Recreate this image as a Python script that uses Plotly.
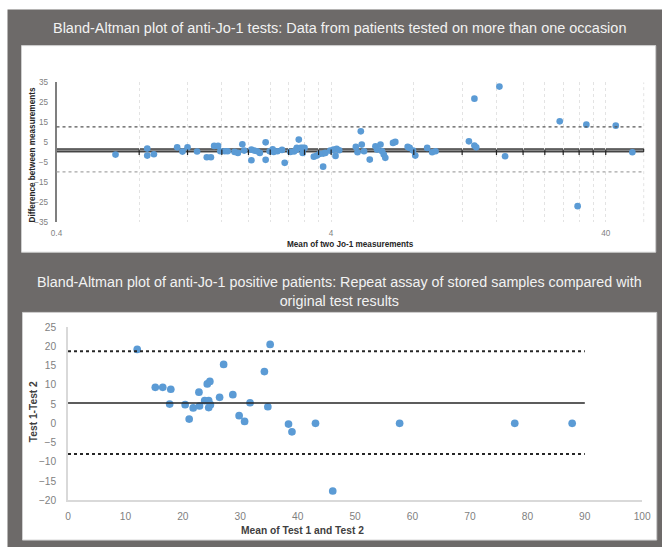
import math
import plotly.graph_objects as go

# ---------------- data: top panel (log x) ----------------
top_mean = [0.656, 0.856, 0.856, 0.905, 1.10, 1.15, 1.20, 1.30, 1.41, 1.46, 1.50, 1.55,
            1.58, 1.64, 1.68, 1.78, 1.83, 1.90, 1.93, 2.05, 2.05, 2.10, 2.15, 2.20, 2.31,
            2.31, 2.39, 2.45, 2.47, 2.55, 2.65, 2.71, 2.84, 2.93, 2.98, 3.00, 3.05, 3.10,
            3.15, 3.20, 3.15, 3.46, 3.55, 3.63, 3.74, 3.74, 3.81, 3.97, 4.08, 4.15, 4.19,
            4.28, 4.92, 4.99, 5.13, 5.17, 5.27, 5.53, 5.80, 5.88, 6.05, 6.13, 6.22, 6.30,
            6.72, 6.85, 7.60, 7.73, 7.95, 8.10, 8.95, 9.33, 9.60, 12.7, 13.3, 13.5, 13.3,
            16.4, 17.2, 27.2, 31.6, 34.0, 43.5, 50.0]
top_diff = [-1.15, 1.85, -1.65, -1.0, 2.5, 0.35, 2.5, 0.4, -2.5, -2.5, 3.2, 3.2,
            0.5, 0.5, 0.5, 0.2, -0.3, 4.0, 0.85, 1.3, -4.0, 0.85, 0.5, -0.3, 5.0,
            -3.8, 0.5, 1.5, 0.2, 0.5, 1.2, -5.3, 0.2, 0.4, 1.2, 2.2, 6.35, 2.2,
            2.2, 2.2, -0.3, -2.2, -1.65, -0.8, -0.65, -7.2, -0.3, 0.8, 1.3, -1.8, 1.7,
            1.0, 2.7, 0.0, 10.5, 3.85, 0.5, -3.65, 3.0, 1.35, 3.85, 0.5, -1.15, -2.8,
            4.7, 5.2, 2.7, 2.2, 0.85, -1.65, 2.2, 0.0, 0.5, 5.5, 3.35, 2.5, 26.85,
            32.9, -2.0, 15.5, -27.0, 13.85, 13.35, 0.0]
top_band = (0.2, 1.7)      # mean-difference band
top_upper = 12.7
top_lower = -9.8
top_xticks = [0.4, 0.8, 1.2, 1.6, 2.0, 2.4, 2.8, 3.2, 3.6,
              4, 8, 12, 16, 20, 24, 28, 32, 36, 40]
top_xlabels = {0.4: "0.4", 4: "4", 40: "40"}
top_yticks = [35, 25, 15, 5, -5, -15, -25, -35]
top_xmin, top_xmax = 0.4, 55.0

# ---------------- data: bottom panel ----------------
bot_mean = [12.05, 15.2, 16.5, 17.9, 17.7, 20.4, 21.1, 21.8, 22.8, 22.9, 23.8, 24.25,
            24.7, 24.5, 24.5, 24.8, 26.4, 27.1, 28.7, 29.8, 30.75, 31.7, 34.2, 35.2,
            34.8, 38.4, 39.0, 43.1, 46.1, 57.75, 77.8, 87.8]
bot_diff = [19.2, 9.35, 9.35, 8.85, 5.0, 4.85, 1.1, 4.0, 8.1, 4.5, 5.9, 10.25,
            10.9, 5.9, 4.1, 4.85, 6.75, 15.3, 7.45, 2.0, 0.5, 5.35, 13.45, 20.5,
            4.3, -0.2, -2.2, 0.0, -17.6, 0.0, 0.0, 0.0]
bot_bias = 5.3
bot_upper = 18.75
bot_lower = -8.0
bot_line_x = (0, 90)
bot_xticks = list(range(0, 101, 10))
bot_yticks = list(range(-20, 26, 5))

title_top = "Bland-Altman plot of anti-Jo-1 tests: Data from patients tested on more than one occasion"
title_bot = ("Bland-Altman plot of anti-Jo-1 positive patients: Repeat assay of stored samples compared with"
             "<br>original test results")

W, H = 662, 547
# the captured picture appears slightly shrunk and offset; positions below are
# given in target-picture pixels and mapped back to figure pixels
S, OFF = 0.977, 5.5
BLUE = "#5b9bd5"
GRAY_BG = "#6d6a69"


def px(x):
    return ((x - OFF) / S) / W


def py(y):
    return 1 - ((y - OFF) / S) / H


def fs(v):
    return v / S


fig = go.Figure()

fig.add_trace(go.Scatter(x=top_mean, y=top_diff, mode="markers", xaxis="x", yaxis="y",
                         marker=dict(color=BLUE, size=fs(6.5)), showlegend=False, hoverinfo="x+y"))
# small tick marks on the zero line
fig.add_trace(go.Scatter(x=[t for t in top_xticks if t > top_xmin], y=[0] * (len(top_xticks) - 1),
                         mode="markers", xaxis="x", yaxis="y", showlegend=False, hoverinfo="skip",
                         marker=dict(symbol="line-ns-open", size=4, color="#222222",
                                     line=dict(color="#222222", width=1.2))))

fig.add_trace(go.Scatter(x=bot_mean, y=bot_diff, mode="markers", xaxis="x2", yaxis="y2",
                         marker=dict(color=BLUE, size=fs(7.5)), showlegend=False, hoverinfo="x+y"))
for val, dash, w in [(bot_bias, "solid", 1.5), (bot_upper, "dot", 2), (bot_lower, "dot", 2)]:
    fig.add_trace(go.Scatter(x=list(bot_line_x), y=[val, val], mode="lines", xaxis="x2", yaxis="y2",
                             line=dict(color="#262626", width=w, dash=dash), showlegend=False,
                             hoverinfo="skip"))

shapes = [
    dict(type="rect", xref="paper", yref="paper", x0=px(7), x1=1.05, y0=py(10), y1=-0.05,
         fillcolor=GRAY_BG, line=dict(width=0), layer="below"),
    dict(type="rect", xref="paper", yref="paper", x0=px(21), x1=px(655), y0=py(46), y1=py(252),
         fillcolor="white", line=dict(color="#cfcfcf", width=1), layer="below"),
    dict(type="rect", xref="paper", yref="paper", x0=px(22), x1=px(656), y0=py(312), y1=py(539),
         fillcolor="white", line=dict(color="#cfcfcf", width=1), layer="below"),
    # right edge dotted line of the top plot area
    dict(type="line", xref="x domain", yref="y domain", x0=1, x1=1, y0=0, y1=1,
         line=dict(color="#e3e3e3", width=1, dash="dot"), layer="below"),
    # top panel reference lines
    dict(type="line", xref="x domain", yref="y", x0=0, x1=1, y0=top_upper, y1=top_upper,
         line=dict(color="#555555", width=1.2, dash="dot")),
    dict(type="line", xref="x domain", yref="y", x0=0, x1=1, y0=top_lower, y1=top_lower,
         line=dict(color="#a6a6a6", width=1.2, dash="dot")),
    dict(type="rect", xref="x domain", yref="y", x0=0, x1=1, y0=top_band[0], y1=top_band[1],
         fillcolor="#8a8a8a", line=dict(color="#1a1a1a", width=1), layer="below"),
]

TXT = "#f2f2f2"
annotations = [
    dict(text=title_top, x=px(339), y=py(28), xref="paper", yref="paper", showarrow=False,
         font=dict(family="Liberation Sans", size=fs(14.15), color=TXT), xanchor="center", yanchor="middle"),
    dict(text=title_bot, x=px(339), y=py(291), xref="paper", yref="paper", showarrow=False,
         font=dict(family="Liberation Sans", size=fs(14.0), color=TXT), xanchor="center", yanchor="middle"),
    dict(text="<b>Mean of two Jo-1 measurements</b>", x=px(350), y=py(244), xref="paper", yref="paper",
         showarrow=False, font=dict(family="Liberation Sans", size=fs(8), color="#262626"),
         xanchor="center", yanchor="middle"),
    dict(text="<b>Difference between measurements</b>", x=px(32), y=py(155), xref="paper", yref="paper",
         showarrow=False, textangle=-90, font=dict(family="Liberation Sans", size=fs(8), color="#262626"),
         xanchor="center", yanchor="middle"),
    dict(text="<b>Mean of Test 1 and Test 2</b>", x=px(302), y=py(529), xref="paper", yref="paper",
         showarrow=False, font=dict(family="Liberation Sans", size=fs(10), color="#404040"),
         xanchor="center", yanchor="middle"),
    dict(text="<b>Test 1-Test 2</b>", x=px(33), y=py(411), xref="paper", yref="paper",
         showarrow=False, textangle=-90, font=dict(family="Liberation Sans", size=fs(10), color="#404040"),
         xanchor="center", yanchor="middle"),
]

fig.update_layout(
    width=W, height=H, margin=dict(l=0, r=0, t=0, b=0),
    paper_bgcolor="white", plot_bgcolor="rgba(0,0,0,0)",
    shapes=shapes, annotations=annotations, showlegend=False,
    font=dict(family="Liberation Sans"),
    xaxis=dict(domain=[px(56), px(643)], type="log",
               range=[math.log10(top_xmin), math.log10(top_xmax)],
               tickvals=top_xticks, ticktext=[top_xlabels.get(t, "") for t in top_xticks],
               showgrid=True, gridcolor="#e3e3e3", griddash="dot", gridwidth=1,
               showline=False, zeroline=False, ticks="", ticklabelstandoff=5,
               tickfont=dict(size=fs(8), color="#7f7f7f"), anchor="y"),
    yaxis=dict(domain=[py(222), py(82.7)], range=[-35, 35], tickvals=top_yticks,
               showgrid=False, zeroline=False, showline=True, linecolor="#7f7f7f", linewidth=1.5,
               ticks="", ticklabelstandoff=5, tickfont=dict(size=fs(8), color="#7f7f7f"), anchor="x"),
    xaxis2=dict(domain=[px(67.5), px(641.5)], range=[0, 100], tickvals=bot_xticks,
                showgrid=False, zeroline=False, showline=True, linecolor="#d9d9d9", linewidth=1.5,
                ticks="", ticklabelstandoff=6, tickfont=dict(size=fs(10), color="#7f7f7f"), anchor="y2"),
    yaxis2=dict(domain=[py(499.3), py(326.7)], range=[-20, 25], tickvals=bot_yticks,
                showgrid=False, zeroline=False, showline=True, linecolor="#d9d9d9", linewidth=1.5,
                ticks="", ticklabelstandoff=8, tickfont=dict(size=fs(10), color="#7f7f7f"), anchor="x2"),
)

fig.write_html("out.html",
               config={"displayModeBar": False, "responsive": False},
               post_script=("document.documentElement.style.margin='0';"
                            "document.documentElement.style.background='" + GRAY_BG + "';"
                            "document.documentElement.style.overflow='hidden';"
                            "document.body.style.margin='0';document.body.style.padding='0';"
                            "document.body.style.overflow='hidden';"))
